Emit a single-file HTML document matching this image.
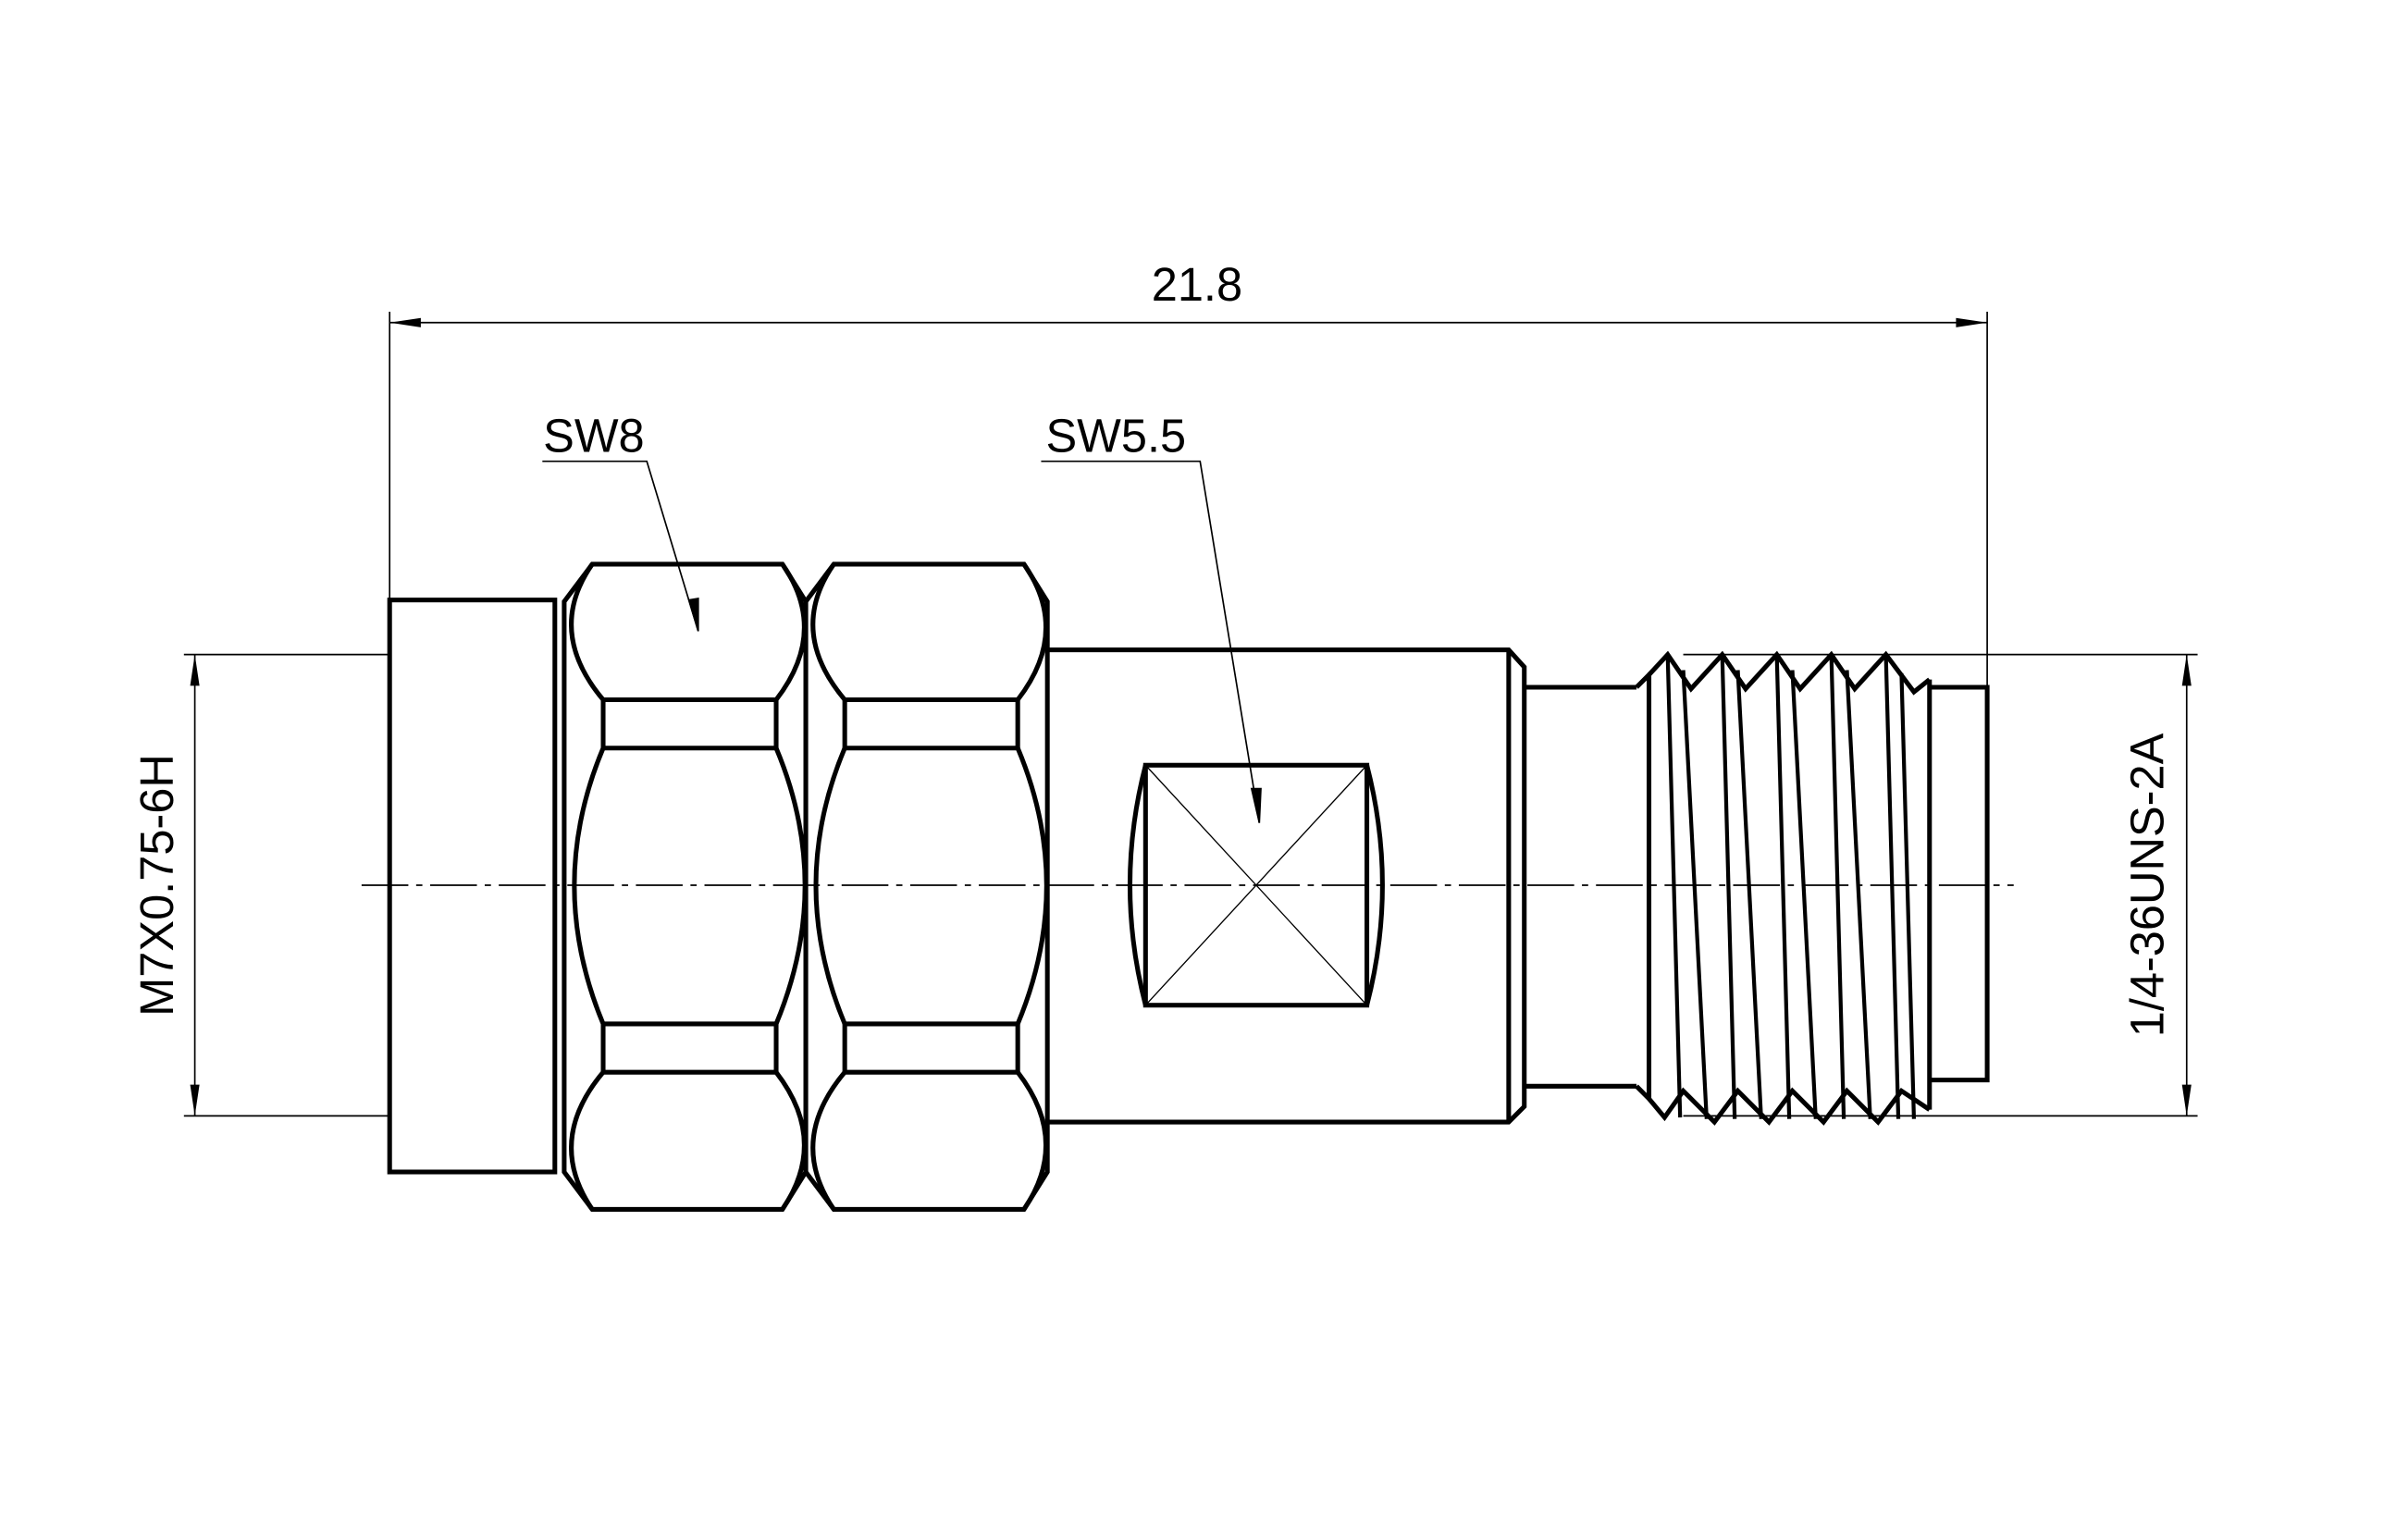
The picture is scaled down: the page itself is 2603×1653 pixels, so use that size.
<!DOCTYPE html>
<html><head><style>html,body{margin:0;padding:0;background:#fff}svg{display:block}</style></head>
<body>
<svg width="2603" height="1653" viewBox="0 0 1545 981.1" preserveAspectRatio="none" xmlns="http://www.w3.org/2000/svg" font-family="Liberation Sans, sans-serif">
<g stroke="#000" fill="none">
<!-- dimension 21.8 -->
<line x1="250" y1="200" x2="250" y2="385" stroke-width="1"/>
<line x1="1275" y1="200" x2="1275" y2="441" stroke-width="1"/>
<line x1="250" y1="207" x2="1275" y2="207" stroke-width="1"/>
<path d="M250,207 l20,-3 v6 z M1275,207 l-20,-3 v6 z" fill="#000" stroke="none"/>
<!-- left dim -->
<line x1="118" y1="420" x2="250" y2="420" stroke-width="1"/>
<line x1="118" y1="716" x2="250" y2="716" stroke-width="1"/>
<line x1="125" y1="420" x2="125" y2="716" stroke-width="1"/>
<path d="M125,420 l-3,20 h6 z M125,716 l-3,-20 h6 z" fill="#000" stroke="none"/>
<!-- right dim -->
<line x1="1080" y1="420" x2="1410" y2="420" stroke-width="1"/>
<line x1="1080" y1="716" x2="1410" y2="716" stroke-width="1"/>
<line x1="1403" y1="420" x2="1403" y2="716" stroke-width="1"/>
<path d="M1403,420 l-3,20 h6 z M1403,716 l-3,-20 h6 z" fill="#000" stroke="none"/>
<!-- centerline -->
<line x1="232" y1="568" x2="1292" y2="568" stroke-width="1" stroke-dasharray="30,5,4,5"/>
<g stroke-width="3">
<rect x="250" y="385" width="106" height="367"/>
<g id="nut">
<path d="M380,362 H502 L517,386 V752 L502,776 H380 L362,752 V386 Z"/>
<path d="M387,449 H498 V480 H387 Z"/>
<path d="M387,657 H498 V688 H387 Z"/>
<path d="M380,362 Q350,405 387,449 M502,362 Q532,405 498,449"/>
<path d="M387,480 Q350,568 387,657 M498,480 Q535,568 498,657"/>
<path d="M387,688 Q350,732 380,776 M498,688 Q532,732 502,776"/>
</g>
<use href="#nut" transform="translate(155,0)"/>
<path d="M672,417 H968 L978,428 V710 L968,720 H672"/>
<line x1="968" y1="417" x2="968" y2="720"/>
<rect x="735" y="491" width="142" height="154"/>
<path d="M735,491 Q715,568 735,645 M877,491 Q897,568 877,645"/>
<path d="M978,441 H1050 M978,697 H1050"/>
<path d="M1050,441 L1058,433 V705 L1050,697"/>
<path d="M1058,433 L1070,420 L1085,442 L1105,420 L1120,442 L1140,420 L1155,442 L1175,420 L1190,442 L1210,420 L1228,444 L1238,436"/>
<path d="M1058,705 L1068,717 L1080,700 L1100,720 L1115,700 L1135,720 L1150,700 L1170,720 L1185,700 L1205,720 L1220,700 L1238,712"/>
<path d="M1070,420 L1078,717 M1080,430 L1095,718 M1105,420 L1113,718 M1115,430 L1130,718 M1140,420 L1148,718 M1150,430 L1165,718 M1175,420 L1183,718 M1185,430 L1200,718 M1210,420 L1218,718 M1220,432 L1228,718" stroke-width="2.5"/>
<path d="M1238,436 V712"/>
<path d="M1238,441 H1275 V693 H1238"/>
</g>
<path d="M348,296 H415 L448,405" stroke-width="1"/>
<path d="M668,296 H770 L808,528" stroke-width="1"/>
<path d="M448,405 l-6,-20 6,-1 z M808,528 l-5,-22 6,0 z" fill="#000"/>
<path d="M735,491 L877,645 M877,491 L735,645" stroke-width="0.8"/>
</g>
<g font-size="30" fill="#000">
<text x="768" y="193" text-anchor="middle">21.8</text>
<text x="381" y="290" text-anchor="middle">SW8</text>
<text x="716" y="290" text-anchor="middle">SW5.5</text>
<text transform="translate(111,568) rotate(-90)" text-anchor="middle">M7X0.75-6H</text>
<text transform="translate(1388,568) rotate(-90)" text-anchor="middle">1/4-36UNS-2A</text>
</g>
</svg>
</body></html>
